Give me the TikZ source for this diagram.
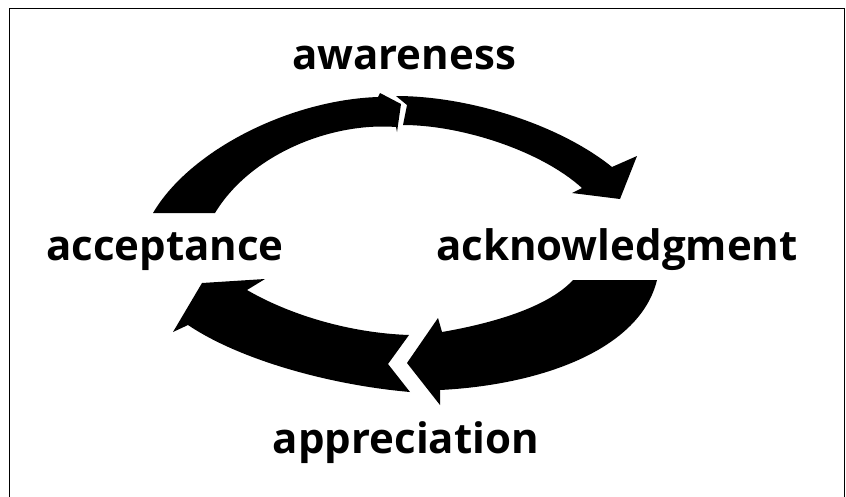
\documentclass[tikz,border=0pt]{standalone}
\usepackage{fontspec}
\setmainfont{Open Sans}
\begin{document}
\begin{tikzpicture}[x=1pt, y=-1pt,
    lbl/.style={font=\fontsize{42}{42}\selectfont\bfseries, anchor=base, inner sep=0pt},
    band/.style={fill=black}]
  \useasboundingbox (0,0) rectangle (846,496);
  % frame, open at the bottom
  \draw[line width=1.5pt] (9.5,497) -- (9.5,8.5) -- (844.5,8.5) -- (844.5,497);
  % labels
  \node[lbl] (aware) at (404,69) {awareness};
  \node[lbl] (accept) at (165,260) {acceptance};
  \node[lbl] (ackn) at (617,260) {acknowledgment};
  \node[lbl] (apprec) at (406,453) {appreciation};
  % acceptance -> awareness
  \fill[band] (215,213) -- (153,213) .. controls (190,150) and (290,100) .. (378,97)
    -- (380,93) -- (401,104) -- (397,132) -- (396,127)
    .. controls (330,122) and (250,155) .. (215,213) -- cycle;
  % awareness -> acknowledgment
  \fill[band] (403,125) -- (407,105) -- (396,96) .. controls (470,96) and (560,125) .. (612,167)
    -- (637,156) -- (620,199) -- (572,193) -- (582,188)
    .. controls (540,150) and (460,125) .. (403,125) -- cycle;
  % acknowledgment -> appreciation
  \fill[band] (573,280) -- (657,280) .. controls (640,350) and (540,385) .. (440,390)
    -- (440,405) -- (407,363) -- (438,318) -- (442,332)
    .. controls (500,322) and (550,305) .. (573,280) -- cycle;
  % appreciation -> acceptance
  \fill[band] (409,335) -- (388,364) -- (410,392) .. controls (330,385) and (240,360) .. (188,325)
    -- (173,332) -- (202,283) -- (265,279) -- (247,290)
    .. controls (290,315) and (350,333) .. (409,335) -- cycle;
\end{tikzpicture}
\end{document}
